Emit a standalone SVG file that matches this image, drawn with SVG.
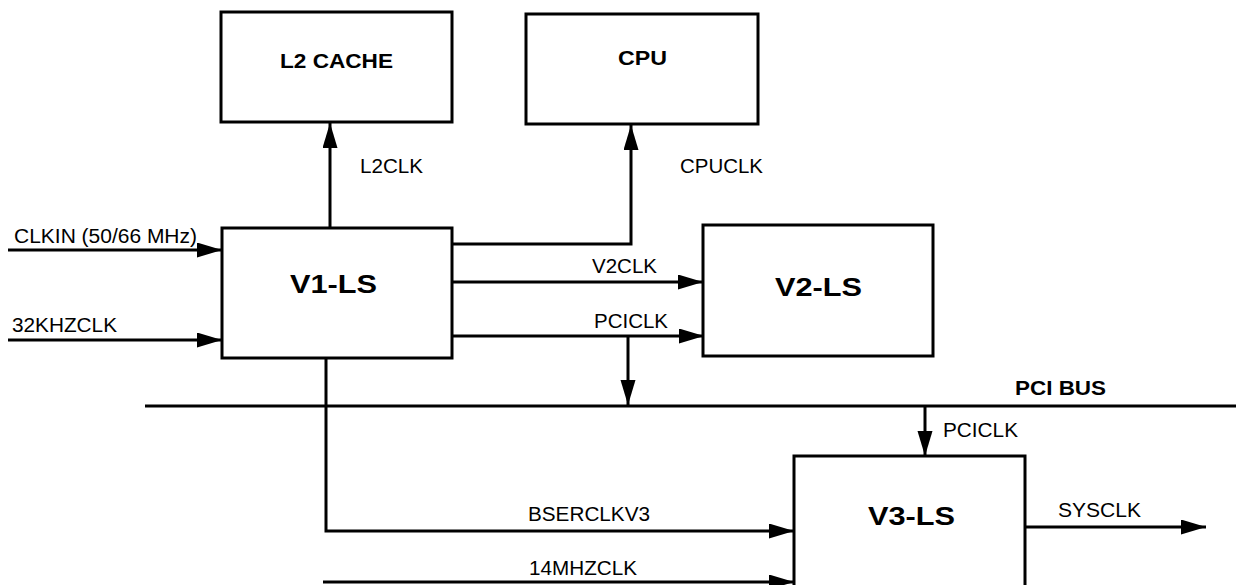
<svg xmlns="http://www.w3.org/2000/svg" width="1236" height="585" viewBox="0 0 1236 585">
  <style>
    .box { fill: #fff; stroke: #000; stroke-width: 3; }
    .wire { fill: none; stroke: #000; stroke-width: 3; }
    .lbl { font-family: "Liberation Sans", Arial, sans-serif; font-size: 20px; fill: #000; }
    .title { font-family: "Liberation Sans", Arial, sans-serif; font-size: 26px; font-weight: bold; fill: #000; }
    .small-title { font-family: "Liberation Sans", Arial, sans-serif; font-size: 21px; font-weight: bold; fill: #000; }
  </style>
  <defs>
    <marker id="arrow" markerUnits="userSpaceOnUse" markerWidth="26" markerHeight="16" refX="25" refY="7.5" orient="auto">
      <path d="M0,0 L25,7.5 L0,15 z" fill="#000"/>
    </marker>
  </defs>
  <rect width="1236" height="585" fill="#fff"/>

  <!-- clock wiring -->
  <g id="connectors">
    <!-- inputs to V1-LS -->
    <line class="wire" x1="8" y1="250" x2="222" y2="250" marker-end="url(#arrow)"/>
    <line class="wire" x1="8" y1="340" x2="222" y2="340" marker-end="url(#arrow)"/>
    <!-- L2CLK -->
    <line class="wire" x1="330" y1="228" x2="330" y2="123" marker-end="url(#arrow)"/>
    <!-- CPUCLK -->
    <polyline class="wire" points="452,244 631,244 631,125" marker-end="url(#arrow)"/>
    <!-- V2CLK -->
    <line class="wire" x1="452" y1="282" x2="703" y2="282" marker-end="url(#arrow)"/>
    <!-- PCICLK to V2-LS and PCI bus -->
    <line class="wire" x1="452" y1="336" x2="704" y2="336" marker-end="url(#arrow)"/>
    <line class="wire" x1="628" y1="336" x2="628" y2="405" marker-end="url(#arrow)"/>
    <!-- PCI bus -->
    <line class="wire" x1="145" y1="406" x2="1236" y2="406"/>
    <!-- PCICLK bus to V3-LS -->
    <line class="wire" x1="925" y1="406" x2="925" y2="456" marker-end="url(#arrow)"/>
    <!-- BSERCLKV3 -->
    <polyline class="wire" points="326,358 326,531 794,531" marker-end="url(#arrow)"/>
    <!-- 14MHZCLK -->
    <line class="wire" x1="323" y1="582" x2="794" y2="582" marker-end="url(#arrow)"/>
    <!-- SYSCLK -->
    <line class="wire" x1="1025" y1="527" x2="1206" y2="527" marker-end="url(#arrow)"/>
  </g>

  <g id="l2-cache">
    <rect class="box" x="221" y="12" width="231" height="110"/>
    <text class="small-title" x="280" y="68" textLength="113" lengthAdjust="spacingAndGlyphs">L2 CACHE</text>
  </g>

  <g id="cpu">
    <rect class="box" x="526" y="14" width="232" height="110"/>
    <text class="small-title" x="618" y="65" textLength="49" lengthAdjust="spacingAndGlyphs">CPU</text>
  </g>

  <g id="v1-ls">
    <rect class="box" x="222" y="228" width="230" height="130"/>
    <text class="title" x="290" y="293" textLength="87" lengthAdjust="spacingAndGlyphs">V1-LS</text>
  </g>

  <g id="v2-ls">
    <rect class="box" x="703" y="225" width="230" height="131"/>
    <text class="title" x="775" y="296" textLength="87" lengthAdjust="spacingAndGlyphs">V2-LS</text>
  </g>

  <g id="v3-ls">
    <rect class="box" x="794" y="456" width="231" height="140"/>
    <text class="title" x="868" y="525" textLength="87" lengthAdjust="spacingAndGlyphs">V3-LS</text>
  </g>

  <!-- signal labels -->
  <g id="labels">
    <text class="lbl" x="14" y="243" textLength="183" lengthAdjust="spacingAndGlyphs">CLKIN (50/66 MHz)</text>
    <text class="lbl" x="12" y="332" textLength="105" lengthAdjust="spacingAndGlyphs">32KHZCLK</text>
    <text class="lbl" x="360" y="173" textLength="63" lengthAdjust="spacingAndGlyphs">L2CLK</text>
    <text class="lbl" x="680" y="173" textLength="83" lengthAdjust="spacingAndGlyphs">CPUCLK</text>
    <text class="lbl" x="592" y="273" textLength="65" lengthAdjust="spacingAndGlyphs">V2CLK</text>
    <text class="lbl" x="594" y="328" textLength="74" lengthAdjust="spacingAndGlyphs">PCICLK</text>
    <text class="small-title" x="1015" y="395" textLength="91" lengthAdjust="spacingAndGlyphs">PCI BUS</text>
    <text class="lbl" x="943" y="437" textLength="75" lengthAdjust="spacingAndGlyphs">PCICLK</text>
    <text class="lbl" x="528" y="521" textLength="122" lengthAdjust="spacingAndGlyphs">BSERCLKV3</text>
    <text class="lbl" x="529" y="575" textLength="108" lengthAdjust="spacingAndGlyphs">14MHZCLK</text>
    <text class="lbl" x="1058" y="517" textLength="83" lengthAdjust="spacingAndGlyphs">SYSCLK</text>
  </g>
</svg>
